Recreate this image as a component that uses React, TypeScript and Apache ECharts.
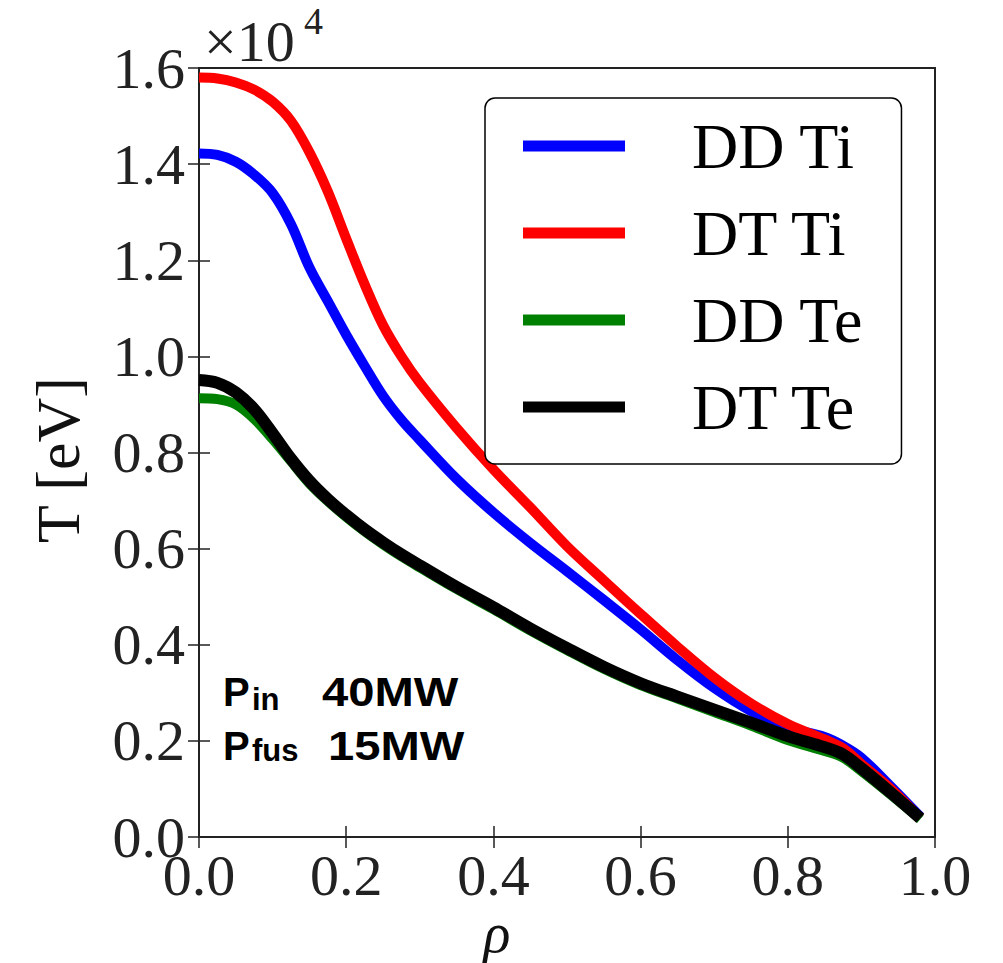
import React, { useEffect, useRef } from "react";
import * as echarts from "echarts";

const seriesNames = ["DD Ti", "DT Ti", "DD Te", "DT Te"];
const seriesColors = ["#0000ff", "#ff0000", "#008000", "#000000"];
const seriesWidths = [10, 10, 10, 12];

// rho grid shared by all profiles
const rho = [
  0, 0.025, 0.05, 0.075, 0.1, 0.125, 0.15, 0.175, 0.2, 0.225, 0.25, 0.275, 0.3, 0.35, 0.4,
  0.45, 0.5, 0.55, 0.6, 0.65, 0.7, 0.75, 0.8, 0.85, 0.875, 0.9, 0.94, 0.98,
];
// T in units of 10^4 eV
const ddTi = [
  1.422, 1.419, 1.405, 1.378, 1.34, 1.275, 1.185, 1.115, 1.045, 0.98, 0.918, 0.868, 0.826, 0.745, 0.675,
  0.612, 0.553, 0.493, 0.432, 0.368, 0.31, 0.262, 0.228, 0.208, 0.19, 0.165, 0.105, 0.042,
];
const dtTi = [
  1.58, 1.578, 1.57, 1.555, 1.53, 1.49, 1.425, 1.343, 1.245, 1.15, 1.065, 1.0, 0.945, 0.851, 0.765,
  0.686, 0.605, 0.534, 0.464, 0.396, 0.332, 0.278, 0.235, 0.203, 0.185, 0.152, 0.1, 0.039,
];
const ddTe = [
  0.913, 0.911, 0.9, 0.87, 0.828, 0.782, 0.736, 0.699, 0.666, 0.636, 0.609, 0.584, 0.561, 0.516, 0.474,
  0.43, 0.389, 0.35, 0.316, 0.288, 0.26, 0.232, 0.202, 0.179, 0.165, 0.137, 0.088, 0.037,
];
const dtTe = [
  0.951, 0.945, 0.925, 0.89, 0.84, 0.787, 0.741, 0.703, 0.67, 0.64, 0.613, 0.588, 0.565, 0.52, 0.478,
  0.434, 0.393, 0.354, 0.32, 0.292, 0.265, 0.238, 0.21, 0.187, 0.172, 0.143, 0.092, 0.039,
];
const allData = [ddTi, dtTi, ddTe, dtTe];

const xMin = 0, xMax = 1, xStep = 0.2;
const yMin = 0, yMax = 1.6, yStep = 0.2;

const serif = "'Liberation Serif', 'Times New Roman', serif";
const sans = "'Liberation Sans', Arial, sans-serif";

export default function App() {
  const ref = useRef<HTMLDivElement>(null);
  useEffect(() => {
    if (!ref.current) return;
    const chart = echarts.init(ref.current, undefined, { renderer: "svg" });
    const tickCommon = { show: true, inside: true, length: 11, lineStyle: { color: "#222", width: 1.5 } };
    const option: any = {
      animation: false,
      backgroundColor: "#fff",
      grid: {
        left: 199, right: 68, top: 68, bottom: 126,
        show: true, borderColor: "#222", borderWidth: 2, backgroundColor: "transparent",
        outerBoundsMode: "none",
      },
      xAxis: [
        {
          type: "value", min: xMin, max: xMax, interval: xStep, position: "bottom",
          axisLine: { show: false }, splitLine: { show: false }, axisTick: tickCommon,
          axisLabel: { margin: 20, fontSize: 58, lineHeight: 36, fontFamily: serif, color: "#222", formatter: (v: number) => v.toFixed(1) },
        },
        {
          type: "value", min: xMin, max: xMax, interval: xStep, position: "top",
          axisLine: { show: false }, splitLine: { show: false }, axisTick: tickCommon,
          axisLabel: { show: false },
        },
      ],
      yAxis: [
        {
          type: "value", min: yMin, max: yMax, interval: yStep, position: "left",
          axisLine: { show: false }, splitLine: { show: false }, axisTick: tickCommon,
          axisLabel: { margin: 14, fontSize: 58, lineHeight: 36, fontFamily: serif, color: "#222", formatter: (v: number) => v.toFixed(1) },
        },
        {
          type: "value", min: yMin, max: yMax, interval: yStep, position: "right",
          axisLine: { show: false }, splitLine: { show: false }, axisTick: tickCommon,
          axisLabel: { show: false },
        },
      ],
      legend: {
        data: seriesNames,
        orient: "vertical",
        left: 485, top: 98,
        padding: [16, 38, 25, 38],
        itemGap: 23,
        itemWidth: 102, itemHeight: 11,
        icon: "rect",
        borderColor: "#000", borderWidth: 1.5, borderRadius: 10,
        backgroundColor: "#fff",
        textStyle: { fontSize: 64, lineHeight: 64, fontFamily: serif, color: "#000", padding: [0, 0, 0, 62] },
      },
      series: seriesNames.map((name, i) => ({
        name,
        type: "line",
        data: rho.map((r, k) => [r, allData[i][k]]),
        xAxisIndex: 0, yAxisIndex: 0,
        showSymbol: false, symbol: "none",
        smooth: 0.35,
        color: seriesColors[i],
        lineStyle: { color: seriesColors[i], width: seriesWidths[i], join: "round" },
        z: 2 + i,
      })),
      graphic: [
        { type: "text", x: 204, y: 41, style: { text: "×10", fontSize: 58, fontFamily: serif, fill: "#222", align: "left", verticalAlign: "middle" } },
        { type: "text", x: 304, y: 21, style: { text: "4", fontSize: 38, fontFamily: serif, fill: "#222", align: "left", verticalAlign: "middle" } },
        { type: "text", x: 58, y: 460, rotation: Math.PI / 2, style: { text: "T [eV]", fontSize: 62, fontFamily: serif, fill: "#111", align: "center", verticalAlign: "middle" } },
        { type: "text", x: 497, y: 933, style: { text: "ρ", fontSize: 56, fontStyle: "italic", fontFamily: serif, fill: "#111", align: "center", verticalAlign: "middle" } },
        { type: "text", x: 223, y: 692, z: 100, style: { text: "P", fontSize: 40, fontWeight: "bold", fontFamily: sans, fill: "#000", align: "left", verticalAlign: "middle" } },
        { type: "text", x: 252, y: 699, z: 100, style: { text: "in", fontSize: 31, fontWeight: "bold", fontFamily: sans, fill: "#000", align: "left", verticalAlign: "middle" } },
        { type: "text", x: 322, y: 692, scaleX: 1.18, z: 100, style: { text: "40MW", fontSize: 40, fontWeight: "bold", fontFamily: sans, fill: "#000", align: "left", verticalAlign: "middle" } },
        { type: "text", x: 223, y: 746, z: 100, style: { text: "P", fontSize: 40, fontWeight: "bold", fontFamily: sans, fill: "#000", align: "left", verticalAlign: "middle" } },
        { type: "text", x: 252, y: 750, z: 100, style: { text: "fus", fontSize: 31, fontWeight: "bold", fontFamily: sans, fill: "#000", align: "left", verticalAlign: "middle" } },
        { type: "text", x: 328, y: 746, scaleX: 1.18, z: 100, style: { text: "15MW", fontSize: 40, fontWeight: "bold", fontFamily: sans, fill: "#000", align: "left", verticalAlign: "middle" } },
      ],
    };
    chart.setOption(option);
    return () => chart.dispose();
  }, []);
  return <div ref={ref} style={{ position: "absolute", left: 0, top: 0, width: 1003, height: 963 }} />;
}
